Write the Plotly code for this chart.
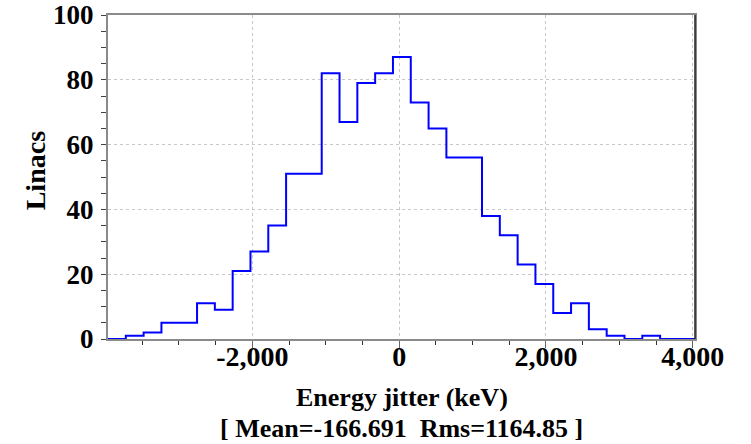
import numpy as np
import plotly.graph_objects as go

# ---- data ----
bin_low = -3966.0          # lower edge of first bin (keV)
bin_width = 242.6          # bin width (keV)
counts = [0, 1, 2, 5, 5, 11, 9, 21, 27, 35, 51, 51,
          82, 67, 79, 82, 87, 73, 65, 56, 56, 38, 32,
          23, 17, 8, 11, 3, 1, 0, 1, 0, 0]
x_tickvals = [-2000, 0, 2000, 4000]
x_ticktext = ["-2,000", "0", "2,000", "4,000"]
y_tickvals = [0, 20, 40, 60, 80, 100]
x_title = "Energy jitter (keV)"
y_title = "Linacs"
stats_text = "[ Mean=-166.691  Rms=1164.85 ]"

edges = bin_low + bin_width * np.arange(len(counts) + 1)
xs = list(edges)
ys = list(counts) + [counts[-1]]

FONT = "Liberation Serif, Times New Roman, serif"

fig = go.Figure()
fig.add_trace(go.Scatter(x=xs, y=ys, mode="lines", line_shape="hv",
                         line=dict(color="#0000ff", width=2), hoverinfo="skip",
                         showlegend=False))

fig.update_layout(
    width=751, height=444,
    margin=dict(l=108, r=56, t=15, b=105, autoexpand=False),
    paper_bgcolor="white", plot_bgcolor="white",
    showlegend=False,
)

fig.update_xaxes(
    range=[edges[0], edges[-1] - 10],
    tickvals=x_tickvals, ticktext=x_ticktext,
    ticks="outside", ticklen=7, tickcolor="#666", tickwidth=1,
    minor=dict(dtick=500, tick0=0, ticks="outside", ticklen=4, tickcolor="#333", showgrid=False),
    showgrid=True, gridcolor="#c8c8c8", griddash="dot", gridwidth=1,
    showline=True, linecolor="#8a8a8a", linewidth=2, mirror=True,
    zeroline=False, automargin=False,
    tickfont=dict(family=FONT, size=28, color="black", weight="bold"),
    ticklabelstandoff=-16,
)
fig.update_yaxes(
    range=[0, 100],
    tickvals=y_tickvals,
    ticks="outside", ticklen=5, tickcolor="#444", tickwidth=1,
    minor=dict(dtick=5, tick0=0, ticks="outside", ticklen=5, tickcolor="#444", showgrid=False),
    showgrid=True, gridcolor="#c8c8c8", griddash="dot", gridwidth=1,
    showline=True, linecolor="#8a8a8a", linewidth=2, mirror=True,
    zeroline=False, automargin=False,
    tickfont=dict(family=FONT, size=27, color="black", weight="bold"),
    ticklabelstandoff=2,
)

# right border darker
fig.add_shape(type="line", xref="paper", yref="paper", x0=1, x1=1, y0=0, y1=1,
              line=dict(color="#222", width=1.5))

fig.add_annotation(text=x_title, xref="paper", yref="paper", x=0.5, y=-0.18,
                   xanchor="center", yanchor="middle", showarrow=False,
                   font=dict(family=FONT, size=26, color="black", weight="bold"))
fig.add_annotation(text=stats_text.replace("  ", "&nbsp; "), xref="paper", yref="paper", x=0.5, y=-0.277,
                   xanchor="center", yanchor="middle", showarrow=False,
                   font=dict(family=FONT, size=26, color="black", weight="bold"))
fig.add_annotation(text=y_title, xref="paper", yref="paper", x=-0.123, y=0.52,
                   xanchor="center", yanchor="middle", showarrow=False, textangle=-90,
                   font=dict(family=FONT, size=28, color="black", weight="bold"))

fig.write_html("out.html", config={"displayModeBar": False},
               post_script="document.body.style.margin='0';document.body.style.overflow='hidden';")
